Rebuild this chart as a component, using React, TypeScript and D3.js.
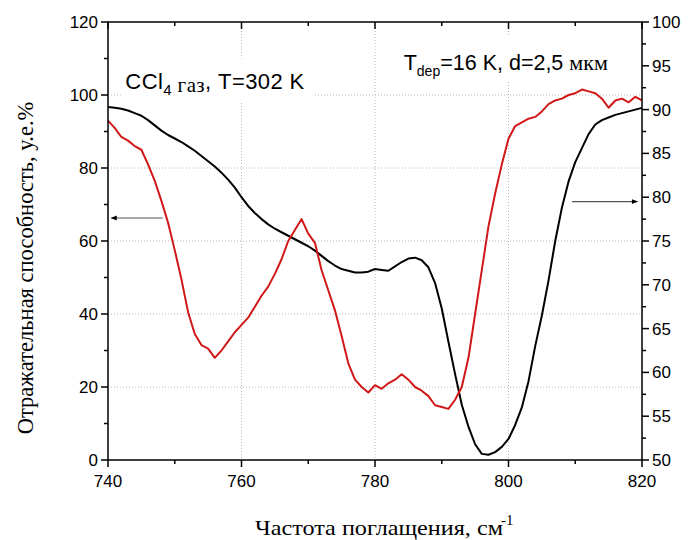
import React from "react";
import * as d3 from "d3";

const freq = [
  740, 741, 742, 743, 744, 745, 746, 747, 748, 749, 750, 751, 752, 753, 754, 755, 756, 757, 758, 759,
  760, 761, 762, 763, 764, 765, 766, 767, 768, 769, 770, 771, 772, 773, 774, 775, 776, 777, 778, 779,
  780, 781, 782, 783, 784, 785, 786, 787, 788, 789, 790, 791, 792, 793, 794, 795, 796, 797, 798, 799,
  800, 801, 802, 803, 804, 805, 806, 807, 808, 809, 810, 811, 812, 813, 814, 815, 816, 817, 818, 819, 820,
];

// Reflectance of the film (red, left axis)
const reflRed = [
  93.0, 91.0, 88.5, 87.5, 86.0, 85.0, 81.0, 76.5, 71.0, 65.0, 57.5, 49.5, 40.5, 34.5, 31.5, 30.5, 28.0, 30.0, 32.5, 35.0,
  37.0, 39.0, 42.0, 45.0, 47.5, 51.0, 55.0, 60.0, 63.0, 66.0, 62.0, 59.5, 52.0, 46.5, 41.0, 34.0, 26.5, 22.0, 20.0, 18.5,
  20.5, 19.5, 21.0, 22.0, 23.5, 22.0, 20.0, 19.0, 17.5, 15.0, 14.5, 14.0, 16.5, 20.0, 28.0, 40.0, 52.0, 64.0, 73.0, 81.0,
  88.0, 91.5, 92.5, 93.5, 94.0, 95.5, 97.5, 98.5, 99.0, 100.0, 100.5, 101.5, 101.0, 100.5, 99.0, 96.5, 98.5, 99.0, 98.0, 99.5, 98.5,
];

// Reflectance (black, right axis)
const reflBlack = [
  90.3, 90.2, 90.1, 89.9, 89.6, 89.3, 88.8, 88.2, 87.6, 87.1, 86.7, 86.3, 85.8, 85.3, 84.7, 84.1, 83.5, 82.8, 82.0, 81.1,
  80.0, 79.0, 78.2, 77.5, 76.9, 76.4, 76.0, 75.6, 75.2, 74.8, 74.4, 73.9, 73.3, 72.7, 72.2, 71.8, 71.6, 71.4, 71.4, 71.5,
  71.8, 71.7, 71.6, 72.1, 72.6, 73.0, 73.1, 72.8, 72.0, 70.2, 67.3, 63.5, 59.8, 56.3, 53.8, 51.8, 50.7, 50.6, 50.9, 51.5,
  52.4, 54.0, 56.0, 59.0, 63.0, 66.5, 70.5, 75.0, 78.8, 81.8, 84.0, 85.6, 87.2, 88.3, 88.8, 89.1, 89.4, 89.6, 89.8, 90.0, 90.2,
];

const xTicks = [740, 760, 780, 800, 820];
const xMinor = [750, 770, 790, 810];
const leftTicks = [0, 20, 40, 60, 80, 100, 120];
const leftMinor = [10, 30, 50, 70, 90, 110];
const rightTicks = [50, 55, 60, 65, 70, 75, 80, 85, 90, 95, 100];
const rightMinor = [52.5, 57.5, 62.5, 67.5, 72.5, 77.5, 82.5, 87.5, 92.5, 97.5];
const gridX = [760, 780, 800];
const gridY = [20, 40, 60, 80, 100];

const W = 688;
const H = 540;
const M = { left: 108, right: 46, top: 22, bottom: 80 };

const SANS = "'Liberation Sans', Arial, sans-serif";
const SERIF = "'Liberation Serif', 'Times New Roman', serif";

export default function App() {
  const x = d3.scaleLinear().domain([740, 820]).range([M.left, W - M.right]);
  const yL = d3.scaleLinear().domain([0, 120]).range([H - M.bottom, M.top]);
  const yR = d3.scaleLinear().domain([50, 100]).range([H - M.bottom, M.top]);

  const lineRed = d3
    .line<number>()
    .x((_, i) => x(freq[i]))
    .y((d) => yL(d));
  const lineBlack = d3
    .line<number>()
    .x((_, i) => x(freq[i]))
    .y((d) => yR(d));

  const x0 = x(740);
  const x1 = x(820);
  const yb = yL(0);
  const yt = yL(120);

  return (
    <svg
      width={W}
      height={H}
      style={{ position: "absolute", left: 0, top: 0, display: "block", background: "#fff" }}
    >
      <defs>
        <marker id="ah" viewBox="0 0 10 10" refX="9" refY="5" markerWidth="8" markerHeight="6" orient="auto-start-reverse" markerUnits="userSpaceOnUse">
          <path d="M0,1 L10,5 L0,9 z" fill="#000" />
        </marker>
      </defs>
      <rect x={0} y={0} width={W} height={H} fill="#fff" />

      {/* grid */}
      {gridX.map((v) => (
        <line key={"gx" + v} x1={x(v)} x2={x(v)} y1={yt} y2={yb} stroke="#b8b8b8" strokeWidth={1} strokeDasharray="1,2" />
      ))}
      {gridY.map((v) => (
        <line key={"gy" + v} x1={x0} x2={x1} y1={yL(v)} y2={yL(v)} stroke="#b8b8b8" strokeWidth={1} strokeDasharray="1,2" />
      ))}

      {/* white boxes behind annotations */}
      <rect x={x(742)} y={yL(110)} width={x(771) - x(742)} height={yL(98) - yL(110)} fill="#fff" />
      <rect x={x(782.5)} y={yL(116)} width={x(818) - x(782.5)} height={yL(104) - yL(116)} fill="#fff" />

      {/* curves */}
      <path d={lineBlack(reflBlack) || ""} fill="none" stroke="#000" strokeWidth={2} strokeLinejoin="round" />
      <path d={lineRed(reflRed) || ""} fill="none" stroke="#d01818" strokeWidth={2} strokeLinejoin="round" />

      {/* frame */}
      <rect x={x0} y={yt} width={x1 - x0} height={yb - yt} fill="none" stroke="#000" strokeWidth={1.5} />

      {/* bottom axis */}
      {xTicks.map((v) => (
        <g key={"xt" + v}>
          <line x1={x(v)} x2={x(v)} y1={yb} y2={yb + 7} stroke="#000" strokeWidth={1.5} />
          <line x1={x(v)} x2={x(v)} y1={yt} y2={yt + 7} stroke="#000" strokeWidth={1.5} />
          <text x={x(v)} y={yb + 27} textAnchor="middle" fontFamily={SANS} fontSize={17} fill="#000">
            {v}
          </text>
        </g>
      ))}
      {xMinor.map((v) => (
        <g key={"xm" + v}>
          <line x1={x(v)} x2={x(v)} y1={yb} y2={yb + 4} stroke="#000" strokeWidth={1.5} />
          <line x1={x(v)} x2={x(v)} y1={yt} y2={yt + 4} stroke="#000" strokeWidth={1.5} />
        </g>
      ))}

      {/* left axis */}
      {leftTicks.map((v) => (
        <g key={"lt" + v}>
          <line x1={x0 - 7} x2={x0} y1={yL(v)} y2={yL(v)} stroke="#000" strokeWidth={1.5} />
          <text x={x0 - 10} y={yL(v) + 6} textAnchor="end" fontFamily={SANS} fontSize={17} fill="#000">
            {v}
          </text>
        </g>
      ))}
      {leftMinor.map((v) => (
        <line key={"lm" + v} x1={x0 - 4} x2={x0} y1={yL(v)} y2={yL(v)} stroke="#000" strokeWidth={1.5} />
      ))}

      {/* right axis */}
      {rightTicks.map((v) => (
        <g key={"rt" + v}>
          <line x1={x1} x2={x1 + 7} y1={yR(v)} y2={yR(v)} stroke="#000" strokeWidth={1.5} />
          <text x={x1 + 10} y={yR(v) + 6} textAnchor="start" fontFamily={SANS} fontSize={17} fill="#000">
            {v}
          </text>
        </g>
      ))}
      {rightMinor.map((v) => (
        <line key={"rm" + v} x1={x1} x2={x1 + 4} y1={yR(v)} y2={yR(v)} stroke="#000" strokeWidth={1.5} />
      ))}

      {/* arrows */}
      <line x1={x(748.2)} x2={x(740.5)} y1={yL(66.3)} y2={yL(66.3)} stroke="#555" strokeWidth={1.2} markerEnd="url(#ah)" />
      <line x1={x(809.5)} x2={x(819.3)} y1={yR(79.5)} y2={yR(79.5)} stroke="#555" strokeWidth={1.2} markerEnd="url(#ah)" />

      {/* annotations */}
      <text x={x(742.6)} y={yL(101.6)} fontFamily={SANS} fontSize={22} letterSpacing={0.4} fill="#000">
        CCl
        <tspan fontSize={15} dy={6}>4</tspan>
        <tspan fontFamily={SERIF} fontSize={21} dy={-3}> газ</tspan>
        <tspan dy={-3}>, T=302 K</tspan>
      </text>
      <text x={x(784.3)} y={yL(106.8)} fontFamily={SANS} fontSize={21.5} fill="#000">
        T
        <tspan fontSize={14} dy={6}>dep</tspan>
        <tspan dy={-6}>=16 K, d=2,5 </tspan>
        <tspan fontFamily={SERIF} fontSize={22}>мкм</tspan>
      </text>

      {/* axis titles */}
      <text
        transform={`translate(${33},${268}) rotate(-90)`}
        textAnchor="middle"
        fontFamily={SERIF}
        fontSize={22.5}
        fill="#000"
      >
        Отражательная способность, у.е.%
      </text>
      <text x={255} y={535} textLength={248} lengthAdjust="spacingAndGlyphs" fontFamily={SERIF} fontSize={22} fill="#000">
        Частота поглащения, см
      </text>
      <text x={501} y={525} fontFamily={SERIF} fontSize={15} fill="#000">
        -1
      </text>
    </svg>
  );
}
